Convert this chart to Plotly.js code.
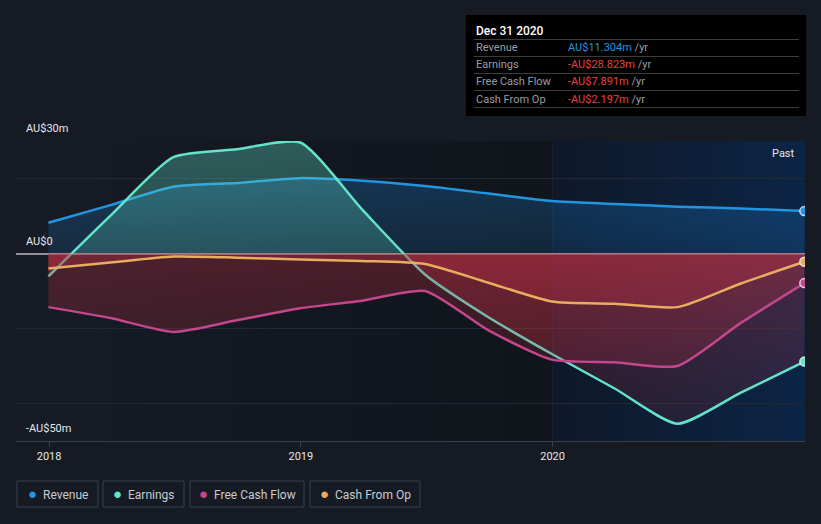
<!DOCTYPE html>
<html>
<head>
<meta charset="utf-8">
<script src="https://cdn.plot.ly/plotly-3.0.1.min.js"></script>
<style>
  html, body { margin: 0; padding: 0; background: #151a23; }
  #chart { width: 821px; height: 524px; }
</style>
</head>
<body>
<div id="chart"></div>
<script>
// ---- data (AU$ millions, trailing twelve months) ----
var dates = ['2017-12-31','2018-03-31','2018-06-30','2018-09-30','2018-12-31','2019-03-31','2019-06-30','2019-09-30','2019-12-31','2020-03-31','2020-06-30','2020-09-30','2020-12-31'];
var seriesNames = ['Revenue', 'Earnings', 'Free Cash Flow', 'Cash From Op'];
var revenue  = [8.2, 12.9, 17.8, 18.8, 20.1, 19.4, 18.0, 16.0, 14.0, 13.2, 12.5, 12.0, 11.304];
var earnings = [-6.1, 10.1, 25.7, 27.8, 29.6, 11.7, -5.6, -17.0, -26.8, -36.0, -45.4, -37.1, -28.823];
var fcf      = [-14.3, -17.2, -20.9, -17.8, -14.6, -12.6, -10.0, -20.5, -28.3, -29.0, -30.0, -18.5, -7.891];
var cfo      = [-4.0, -2.4, -0.8, -1.1, -1.6, -2.0, -2.8, -7.8, -12.8, -13.4, -14.3, -8.0, -2.197];
var tickVals = ['2018-01-01', '2019-01-01', '2020-01-01'];
var tickText = ['2018', '2019', '2020'];
var tooltipDate = 'Dec 31 2020';
var tooltipValues = ['AU$11.304m', '-AU$28.823m', '-AU$7.891m', '-AU$2.197m'];
var yTickLabels = [[30, 'AU$30m'], [0, 'AU$0'], [-50, '-AU$50m']];

var colors = ['#2394df', '#62e3ca', '#c4468c', '#e8ad5f'];
var posFill = [['rgba(33,150,243,0.14)', 'rgba(33,150,243,0.30)'],
               ['rgba(98,227,202,0.22)', 'rgba(98,227,202,0.34)'],
               ['rgba(196,70,140,0.2)', 'rgba(196,70,140,0.3)'],
               ['rgba(232,173,95,0.2)', 'rgba(232,173,95,0.3)']];
var allSeries = [revenue, earnings, fcf, cfo];

var W = 821, H = 524, L = 16, R = 805, T = 141, B = 441;
function px(x) { return (x - L) / (R - L); }
function py(y) { return (B - y) / (B - T); }

var traces = [];
allSeries.forEach(function (s, i) {
  traces.push({
    type: 'scatter', mode: 'lines', x: dates, y: s, name: seriesNames[i],
    line: { color: colors[i], width: 2.5, shape: 'spline', smoothing: 0.6 },
    fill: 'tozeroy',
    fillgradient: {
      type: 'vertical', start: -50, stop: 30,
      colorscale: [[0, 'rgba(195,48,68,0.10)'], [0.6245, 'rgba(195,48,68,0.32)'],
                   [0.6255, posFill[i][0]], [1, posFill[i][1]]]
    },
    hoverinfo: 'skip', showlegend: false
  });
});
allSeries.forEach(function (s, i) {
  traces.push({
    type: 'scatter', mode: 'markers', x: [dates[dates.length - 1]], y: [s[s.length - 1]],
    marker: { color: colors[i], size: 9, line: { color: 'rgba(235,235,245,0.85)', width: 1.5 } },
    hoverinfo: 'skip', showlegend: false
  });
});

function grad(c1, c2) {
  var svg = "<svg xmlns='http://www.w3.org/2000/svg' width='100' height='100' preserveAspectRatio='none'>" +
    "<defs><linearGradient id='g' x1='0' y1='0' x2='1' y2='0'><stop offset='0' stop-color='" + c1 + "'/>" +
    "<stop offset='1' stop-color='" + c2 + "'/></linearGradient></defs>" +
    "<rect width='100' height='100' fill='url(#g)'/></svg>";
  return 'data:image/svg+xml;charset=utf-8,' + encodeURIComponent(svg);
}

var xStart = '2017-11-14', xEnd = '2021-01-01', pastStart = '2020-01-01';
var images = [
  { source: grad('#161b25', '#10141b'), xref: 'x', yref: 'y', x: xStart, y: 30,
    sizex: (new Date(pastStart) - new Date(xStart)), sizey: 80, sizing: 'stretch',
    xanchor: 'left', yanchor: 'top', layer: 'below' },
  { source: grad('#0e1829', '#0c2545'), xref: 'x', yref: 'y', x: pastStart, y: 30,
    sizex: (new Date(xEnd) - new Date(pastStart)), sizey: 80, sizing: 'stretch',
    xanchor: 'left', yanchor: 'top', layer: 'below' }
];

var shapes = [
  { type: 'line', xref: 'paper', yref: 'y', x0: 0, x1: 1, y0: 30, y1: 30, line: { color: '#3a404a', width: 1 }, layer: 'below' },
  { type: 'line', xref: 'x', yref: 'y', x0: pastStart, x1: pastStart, y0: -50, y1: 30, line: { color: '#1b2a42', width: 1 }, layer: 'below' },
  // tooltip box
  { type: 'rect', xref: 'paper', yref: 'paper', x0: px(466), x1: px(806), y0: py(116), y1: py(15), fillcolor: '#000000', line: { width: 0 } }
];
[39.5, 56.5, 73.5, 90.5, 107.5].forEach(function (yy) {
  shapes.push({ type: 'line', xref: 'paper', yref: 'paper', x0: px(474), x1: px(799), y0: py(yy), y1: py(yy), line: { color: '#3c3c3c', width: 1 } });
});

var annotations = [];
yTickLabels.forEach(function (t) {
  annotations.push({ xref: 'paper', yref: 'y', x: px(24), y: t[0], xanchor: 'left', yanchor: 'bottom', yshift: 4,
    text: t[1], showarrow: false, font: { family: 'Roboto', size: 11, color: '#e6e8ec' } });
});
annotations.push({ xref: 'paper', yref: 'y', x: 1, y: 30, xanchor: 'right', yanchor: 'top', xshift: -8, yshift: -4,
  text: 'Past', showarrow: false, font: { family: 'Roboto', size: 11, color: '#e6e8ec' } });
// tooltip text
annotations.push({ xref: 'paper', yref: 'paper', x: px(474), y: py(31), xanchor: 'left', yanchor: 'middle',
  text: tooltipDate, showarrow: false, font: { family: 'Roboto', size: 12, color: '#ffffff', weight: 500 } });
var rowY = [48, 65, 82, 99];
seriesNames.forEach(function (n, i) {
  annotations.push({ xref: 'paper', yref: 'paper', x: px(474), y: py(rowY[i]), xanchor: 'left', yanchor: 'middle',
    text: n, showarrow: false, font: { family: 'Roboto', size: 11, color: '#9a9da3' } });
  annotations.push({ xref: 'paper', yref: 'paper', x: px(566), y: py(rowY[i]), xanchor: 'left', yanchor: 'middle',
    text: '<span style="color:' + (i === 0 ? '#2394df' : '#e8413e') + '">' + tooltipValues[i] + '</span> /yr',
    showarrow: false, font: { family: 'Roboto', size: 11, color: '#9a9da3' } });
});
// legend boxes
var legBoxes = [[17, 98], [103, 184], [190, 304], [310, 420]];
seriesNames.forEach(function (n, i) {
  var x0 = legBoxes[i][0], x1 = legBoxes[i][1];
  shapes.push({ type: 'rect', xref: 'paper', yref: 'paper', x0: px(x0), x1: px(x1), y0: py(507), y1: py(481),
    line: { color: '#3a404a', width: 1 }, fillcolor: 'rgba(0,0,0,0)' });
  annotations.push({ xref: 'paper', yref: 'paper', x: px((x0 + x1) / 2), y: py(494), xanchor: 'center', yanchor: 'middle',
    text: '<span style="color:' + colors[i] + ';font-size:15px">●</span>  ' + n, showarrow: false,
    font: { family: 'Roboto', size: 12, color: '#c9ccd2' } });
});

var layout = {
  width: W, height: H,
  margin: { l: L, r: W - R, t: T, b: H - B, pad: 0 },
  paper_bgcolor: '#151a23', plot_bgcolor: 'rgba(0,0,0,0)',
  showlegend: false,
  xaxis: {
    type: 'date', range: [xStart, xEnd], tickvals: tickVals, ticktext: tickText,
    showgrid: false, zeroline: false, showline: true, linecolor: '#3a404a', linewidth: 1,
    ticks: 'outside', ticklen: 5, tickcolor: '#3a404a',
    tickfont: { family: 'Roboto', size: 11, color: '#e6e8ec' }, fixedrange: true
  },
  yaxis: {
    range: [-50, 30], tickvals: [-40, -20, 0, 20], showticklabels: false,
    showgrid: true, gridcolor: '#232934', gridwidth: 1,
    zeroline: true, zerolinecolor: '#8e9298', zerolinewidth: 2, fixedrange: true
  },
  images: images, shapes: shapes, annotations: annotations,
  hovermode: false
};

Plotly.newPlot('chart', traces, layout, { displayModeBar: false, staticPlot: true });
</script>
</body>
</html>
